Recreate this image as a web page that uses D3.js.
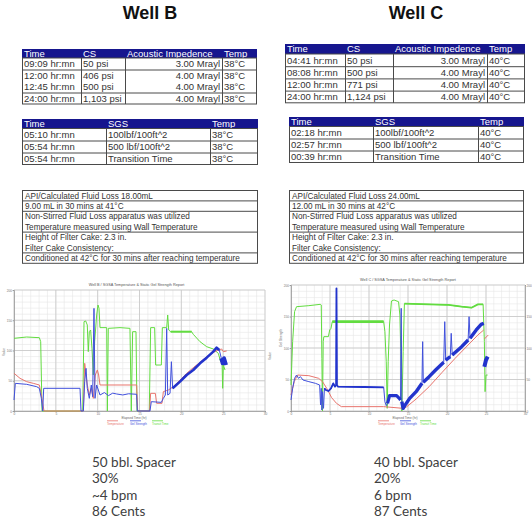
<!DOCTYPE html>
<html>
<head>
<meta charset="utf-8">
<script src="https://cdn.jsdelivr.net/npm/d3@7"></script>
<style>
  body { margin: 0; background: #fff; }
  svg { display: block; }
</style>
</head>
<body>
<svg id="sheet" width="532" height="529"></svg>
<script>
// ---------- data ----------
const wellNames = ["Well B", "Well C"];

const strengthHeader = ["Time", "CS", "Acoustic Impedence", "Temp"];
const strengthB = [
  ["09:09 hr:mn", "50 psi", "3.00 Mrayl", "38°C"],
  ["12:00 hr:mn", "406 psi", "4.00 Mrayl", "38°C"],
  ["12:45 hr:mn", "500 psi", "4.00 Mrayl", "38°C"],
  ["24:00 hr:mn", "1,103 psi", "4.00 Mrayl", "38°C"]
];
const strengthC = [
  ["04:41 hr:mn", "50 psi", "3.00 Mrayl", "40°C"],
  ["08:08 hr:mn", "500 psi", "4.00 Mrayl", "40°C"],
  ["12:00 hr:mn", "771 psi", "4.00 Mrayl", "40°C"],
  ["24:00 hr:mn", "1,124 psi", "4.00 Mrayl", "40°C"]
];

const sgsHeader = ["Time", "SGS", "Temp"];
const sgsB = [
  ["05:10 hr:mn", "100lbf/100ft^2", "38°C"],
  ["05:54 hr:mn", "500 lbf/100ft^2", "38°C"],
  ["05:54 hr:mn", "Transition Time", "38°C"]
];
const sgsC = [
  ["02:18 hr:mn", "100lbf/100ft^2", "40°C"],
  ["02:57 hr:mn", "500 lbf/100ft^2", "40°C"],
  ["00:39 hr:mn", "Transition Time", "40°C"]
];

const fluidB = [
  ["API/Calculated Fluid Loss 18.00mL"],
  ["9.00 mL in 30 mins at 41°C"],
  ["Non-Stirred Fluid Loss apparatus was utilized", "Temperature measured using Wall Temperature"],
  ["Height of Filter Cake: 2.3 in.", "Filter Cake Consistency:"],
  ["Conditioned at 42°C for 30 mins after reaching temperature"]
];
const fluidC = [
  ["API/Calculated Fluid Loss 24.00mL"],
  ["12.00 mL in 30 mins at 42°C"],
  ["Non-Stirred Fluid Loss apparatus was utilized", "Temperature measured using Wall Temperature"],
  ["Height of Filter Cake: 2.3 in.", "Filter Cake Consistency:"],
  ["Conditioned at 42°C for 30 mins after reaching temperature"]
];

const notesB = ["50 bbl. Spacer", "30%", "~4 bpm", "86 Cents"];
const notesC = ["40 bbl. Spacer", "20%", "6 bpm", "87 Cents"];

// chart series: [elapsed hours, value]; null breaks the trace
const tempB = [[0,62.3],[0.72,54.0],[1.51,48.5],[2.31,45.7],[3.03,43.0],[3.27,26.4],[3.59,0],[8.29,0],[8.45,78.8],[8.61,59.5],[8.76,43.0],[9.00,26.4],[9.24,37.5],[9.48,20.9],[9.72,59.5],[9.96,67.8],[10.12,59.5],[10.28,43.0],[14.66,43.0],[14.78,0],[16.21,0],[16.33,29.2],[16.89,29.2],[17.05,12.7],[17.69,12.7],[17.85,32.0],[18.45,34.7],[19.04,40.2],[19.84,51.2],[20.64,62.3],[21.43,71.6],[22.23,80.4],[23.03,89.8],[23.82,97.0],[24.42,100.8],[24.82,102.5],[25.02,98.1],[25.42,99.2]];
const gelB = [[0,18.2],[0.16,45.7],[1.51,44.1],[2.71,40.2],[3.03,37.5],[3.27,20.9],[3.43,0],[3.55,37.5],[7.89,37.5],[8.01,0],[8.29,0],[8.45,48.5],[8.61,70.5],[8.76,37.5],[9.00,20.9],[9.24,43.0],[9.40,23.7],[9.56,169.7],[9.68,20.9],[9.88,43.0],[10.08,34.7],[10.28,26.4],[10.8,30.5],[11.3,25.5],[11.8,29.5],[12.27,28.1],[13.0,26.5],[13.7,28.5],[14.66,27.6],[14.74,0],[16.25,0],[16.41,15.4],[17.61,14.3],[17.85,20.9],[18.09,26.4],[18.25,136.6],[18.37,26.4],[18.65,29.2],[18.81,81.5],[18.96,37.5],[19.84,48.5],[20.64,59.5],[21.43,67.8],[22.23,78.8],[23.03,88.2],[23.82,98.1],[24.22,104.7],[24.54,100.8],[24.78,87.1],[24.94,78.8],[25.10,87.1],[25.34,76.0]];
const transitB = [[0,120.1],[1.51,122.3],[3.03,121.2],[3.19,114.6],[3.35,0],[8.21,0],[8.37,147.7],[8.57,148.8],[8.76,142.2],[8.88,98.1],[9.00,131.1],[9.16,133.9],[9.32,103.6],[9.48,59.5],[9.64,114.6],[9.88,158.7],[10.04,175.2],[10.16,169.7],[10.28,137.8],[11.08,137.8],[11.16,0],[11.27,136.6],[12.67,137.8],[13.86,136.6],[14.02,0],[14.18,131.1],[14.58,131.1],[14.70,0],[16.17,0],[16.33,137.8],[16.81,137.8],[16.93,76.0],[17.61,76.0],[17.73,137.8],[18.25,137.8],[18.37,158.7],[18.49,133.9],[18.73,131.1],[21.23,131.1],[21.43,126.7],[22.23,114.6],[23.03,106.3],[23.82,102.5],[24.42,95.3],[24.70,81.5],[24.86,87.1],[24.94,37.5],[25.02,76.0],[25.22,67.8]];

const tempC = [[0,25.4],[0.42,46.6],[0.83,57.1],[2.29,56.1],[3.54,51.9],[4.04,46.6],[4.58,36.0],[5.21,21.2],[5.83,12.2],[6.46,6.9],[11.88,6.9],[14.38,4.2],[14.79,6.3],[16.04,19.0],[17.71,38.6],[19.38,61.4],[21.04,83.6],[22.71,104.8],[23.96,120.6],[24.71,128.6],[24.75,null],[24.79,114.3],[25.29,120.6]];
const gelC = [[0,17.5],[0.21,36.0],[0.46,51.9],[0.71,57.1],[0.96,51.9],[1.21,54.5],[1.54,49.2],[2.29,46.6],[3.13,43.9],[3.67,41.3],[3.79,9.5],[3.88,36.0],[3.96,1.6],[4.04,30.7],[4.17,4.2],[4.29,36.0],[4.46,33.3],[4.79,31.7],[5.13,36.0],[5.42,43.9],[5.63,38.6],[5.79,41.3],[5.83,194.7],[5.88,41.3],[6.04,38.6],[9.38,38.1],[11.88,37.6],[12.04,14.8],[12.21,8.5],[12.38,12.2],[12.63,24.3],[13.54,24.3],[13.88,20.1],[14.04,17.5],[14.13,163.0],[14.21,14.8],[14.38,4.2],[14.58,8.5],[15.21,20.1],[16.04,30.7],[16.79,43.9],[16.88,110.1],[16.96,45.5],[17.71,54.5],[18.54,65.1],[19.58,77.3],[19.71,141.8],[19.83,80.9],[20.42,86.2],[20.54,123.3],[20.67,88.8],[21.88,102.1],[22.71,112.7],[22.83,149.7],[22.96,115.3],[23.75,128.6],[24.38,137.6],[24.71,139.2],[24.75,null],[24.79,70.4],[25.00,80.9],[25.21,86.2]];
const transitC = [[0,41.3],[0.21,110.1],[0.46,157.7],[0.71,165.6],[2.29,167.2],[3.75,169.3],[3.88,168.3],[3.96,83.6],[4.04,0],[4.13,110.1],[4.21,118.0],[4.79,118.0],[4.96,128.6],[5.13,131.2],[5.29,141.8],[11.88,141.8],[12.04,125.9],[12.21,78.3],[12.33,4.2],[12.46,78.3],[12.63,136.5],[12.88,174.6],[13.21,176.2],[13.79,173.5],[13.96,152.4],[14.08,94.2],[14.21,0],[14.38,94.2],[14.54,170.4],[17.71,169.3],[20.21,168.3],[21.88,165.6],[23.13,164.0],[23.96,169.3],[24.63,169.3],[24.79,110.1],[24.88,30.7],[25.00,57.1],[25.21,57.1]];

const timeTicks = [0, 5, 10, 15, 20, 25, 30];
const valueTicks = [0, 50, 100, 150, 200];
const seriesNames = ["Temperature", "Gel Strength", "Transit Time"];
const chartTitles = ["Well B / SGSA Temperature & Static Gel Strength Report", "Well C / SGSA Temperature & Static Gel Strength Report"];
const timeTitle = "Elapsed Time (hr)";

// ---------- drawing ----------
const svg = d3.select("#sheet");
const SANS = "'Liberation Sans', Arial, sans-serif";
const NAVY = "#16168e";
const RULE = "#4a4a4a";
const INK = "#333";
const COLORS = { temp: "#e8756e", gel: "#4050dc", transit: "#62dc40" };
const HEAVY_GEL = "#2233cc";

svg.append("rect").attr("width", 532).attr("height", 529).attr("fill", "#fff");

// well titles
[[150, wellNames[0]], [416, wellNames[1]]].forEach(([cx, name]) => {
  svg.append("text").attr("x", cx).attr("y", 19).attr("text-anchor", "middle")
    .attr("font-family", SANS).attr("font-weight", "bold").attr("font-size", 18)
    .attr("fill", "#111").text(name);
});

// table with a navy header band and ruled body
function headedTable({ cols, top, headH, rowH, header, rows, aligns, noRuleBefore = [] }) {
  const g = svg.append("g").attr("font-family", SANS).attr("font-size", 9.5);
  const left = cols[0], right = cols[cols.length - 1];
  g.append("rect").attr("x", left).attr("y", top).attr("width", right - left)
    .attr("height", headH).attr("fill", NAVY);
  header.forEach((h, i) => {
    g.append("text").attr("x", cols[i] + 2).attr("y", top + headH / 2)
      .attr("dy", "0.36em").attr("fill", "#fff").text(h);
  });
  const bodyTop = top + headH;
  const bottom = bodyTop + rowH * rows.length;
  g.append("rect").attr("x", left + 0.5).attr("y", bodyTop).attr("width", right - left - 1)
    .attr("height", bottom - bodyTop).attr("fill", "none").attr("stroke", RULE);
  cols.slice(1, -1).forEach(cx => {
    g.append("line").attr("x1", cx + 0.5).attr("x2", cx + 0.5)
      .attr("y1", bodyTop).attr("y2", bottom).attr("stroke", RULE);
  });
  rows.forEach((r, ri) => {
    const ry = bodyTop + ri * rowH;
    if (ri > 0 && !noRuleBefore.includes(ri)) {
      g.append("line").attr("x1", left).attr("x2", right)
        .attr("y1", ry + 0.5).attr("y2", ry + 0.5).attr("stroke", RULE);
    }
    r.forEach((cell, ci) => {
      const end = aligns[ci] === "end";
      g.append("text").attr("x", end ? cols[ci + 1] - 2 : cols[ci] + 2)
        .attr("y", ry + rowH / 2).attr("dy", "0.36em")
        .attr("text-anchor", end ? "end" : "start")
        .attr("fill", INK).text(cell);
    });
  });
}

headedTable({ cols: [22, 81, 125, 222, 257], top: 49, headH: 9, rowH: 11.5,
  header: strengthHeader, rows: strengthB, aligns: ["start", "start", "end", "start"], noRuleBefore: [2] });
headedTable({ cols: [285, 345, 393, 487, 525], top: 44, headH: 10, rowH: 12.2,
  header: strengthHeader, rows: strengthC, aligns: ["start", "start", "end", "start"] });
headedTable({ cols: [22, 106, 210, 258], top: 119, headH: 9.5, rowH: 12,
  header: sgsHeader, rows: sgsB, aligns: ["start", "start", "start"] });
headedTable({ cols: [289, 373, 478, 524], top: 117, headH: 9.5, rowH: 12,
  header: sgsHeader, rows: sgsC, aligns: ["start", "start", "start"] });

// boxed notes table; each group can hold one or two lines
function notesTable(left, right, top, groups) {
  const g = svg.append("g").attr("font-family", SANS).attr("font-size", 8.2);
  const lineH = 10.4;
  let y = top;
  groups.forEach((lines, gi) => {
    if (gi > 0) {
      g.append("line").attr("x1", left).attr("x2", right)
        .attr("y1", y + 0.5).attr("y2", y + 0.5).attr("stroke", RULE);
    }
    lines.forEach((t, li) => {
      g.append("text").attr("x", left + 3).attr("y", y + lineH * li + lineH / 2 + 0.5)
        .attr("dy", "0.36em").attr("fill", INK).text(t);
    });
    y += lineH * lines.length;
  });
  g.append("rect").attr("x", left + 0.5).attr("y", top + 0.5).attr("width", right - left - 1)
    .attr("height", y - top).attr("fill", "none").attr("stroke", RULE);
}
notesTable(22, 258, 190, fluidB);
notesTable(289, 524, 190, fluidC);

// line chart with grid, tiny axes and legend
function trendChart(cfg) {
  const x = d3.scaleLinear().domain([0, 30]).range([cfg.left, cfg.right]);
  const y = d3.scaleLinear().domain([0, 200]).range([cfg.bottom, cfg.top]);
  const g = svg.append("g").attr("font-family", SANS);

  g.append("rect").attr("x", cfg.left).attr("y", cfg.top)
    .attr("width", cfg.right - cfg.left).attr("height", cfg.bottom - cfg.top).attr("fill", "#fff");

  // minor then major grid
  g.append("g").attr("stroke", "#e6e6e6").attr("stroke-width", 0.6)
    .selectAll("line").data(d3.range(0, 31, 1)).join("line")
    .attr("x1", d => x(d)).attr("x2", d => x(d)).attr("y1", cfg.top).attr("y2", cfg.bottom);
  g.append("g").attr("stroke", "#e6e6e6").attr("stroke-width", 0.6)
    .selectAll("line").data(d3.range(0, 201, 10)).join("line")
    .attr("y1", d => y(d)).attr("y2", d => y(d)).attr("x1", cfg.left).attr("x2", cfg.right);
  g.append("g").attr("stroke", "#c6c6c6").attr("stroke-width", 0.8)
    .selectAll("line").data(timeTicks).join("line")
    .attr("x1", d => x(d)).attr("x2", d => x(d)).attr("y1", cfg.top).attr("y2", cfg.bottom);
  g.append("g").attr("stroke", "#c6c6c6").attr("stroke-width", 0.8)
    .selectAll("line").data(valueTicks).join("line")
    .attr("y1", d => y(d)).attr("y2", d => y(d)).attr("x1", cfg.left).attr("x2", cfg.right);

  // axes
  const styleAxis = a => {
    a.selectAll("text").attr("font-size", 3.2).attr("fill", "#777");
    a.selectAll("line").attr("stroke", "#999");
    a.select(".domain").attr("stroke", "#999").attr("stroke-width", 0.8);
  };
  styleAxis(g.append("g").attr("transform", `translate(0,${cfg.bottom})`)
    .call(d3.axisBottom(x).tickValues(timeTicks).tickSize(1.2).tickPadding(0.8)));
  styleAxis(g.append("g").attr("transform", `translate(${cfg.left},0)`)
    .call(d3.axisLeft(y).tickValues(valueTicks).tickSize(1.2).tickPadding(0.8)));
  if (cfg.rightAxis) {
    styleAxis(g.append("g").attr("transform", `translate(${cfg.right},0)`)
      .call(d3.axisRight(y).tickValues(valueTicks).tickSize(1).tickPadding(0.5)));
  }

  // titles
  g.append("text").attr("x", (cfg.left + cfg.right) / 2 - cfg.titleShift).attr("y", cfg.top - 4)
    .attr("text-anchor", "middle").attr("font-size", 3.8).attr("fill", "#555").text(cfg.title);
  g.append("text").attr("x", cfg.timeTitleX).attr("y", cfg.bottom + 8.2)
    .attr("text-anchor", "middle").attr("font-size", 3.2).attr("fill", "#666").text(timeTitle);
  cfg.valueTitles.forEach(([vx, vy, label]) => {
    g.append("text").attr("transform", `translate(${vx},${vy}) rotate(-90)`)
      .attr("text-anchor", "middle").attr("font-size", 3.2).attr("fill", "#666").text(label);
  });

  // traces
  const line = d3.line().defined(d => d[1] !== null).x(d => x(d[0])).y(d => y(d[1]));
  cfg.traces.forEach(tr => {
    g.append("path").attr("d", line(tr.data)).attr("fill", "none")
      .attr("stroke", tr.color).attr("stroke-width", 1).attr("stroke-linejoin", "round");
    (tr.heavy || []).forEach(([a, b, w]) => {
      const part = tr.data.filter(d => d[0] >= a && d[0] <= b);
      g.append("path").attr("d", line(part)).attr("fill", "none")
        .attr("stroke", tr.heavyColor || tr.color).attr("stroke-width", w)
        .attr("stroke-linejoin", "round");
    });
  });

  // legend
  cfg.legendX.forEach((lx, i) => {
    const c = [COLORS.temp, COLORS.gel, COLORS.transit][i];
    g.append("line").attr("x1", lx).attr("x2", lx + 11).attr("y1", cfg.bottom + 9.8)
      .attr("y2", cfg.bottom + 9.8).attr("stroke", c).attr("stroke-width", 0.8);
    g.append("text").attr("x", lx).attr("y", cfg.bottom + 13.6).attr("font-size", 3)
      .attr("fill", c).text(seriesNames[i]);
  });
}

trendChart({
  left: 14, right: 265, top: 290, bottom: 411, titleShift: 3,
  title: chartTitles[0], timeTitleX: 134,
  valueTitles: [[4.5, 352, "Value"]],
  legendX: [107, 130, 152],
  traces: [
    { data: transitB, color: COLORS.transit, heavy: [[18.73, 21.23, 2]] },
    { data: tempB, color: COLORS.temp },
    { data: gelB, color: COLORS.gel, heavyColor: HEAVY_GEL,
      heavy: [[18.96, 24.6, 2.6], [24.7, 25.4, 4]] }
  ]
});
trendChart({
  left: 291, right: 525, top: 285, bottom: 411, titleShift: 0, rightAxis: true,
  title: chartTitles[1], timeTitleX: 405,
  valueTitles: [[271, 356, "Value"], [282, 338, "Gel Strength"]],
  legendX: [378, 400, 420],
  traces: [
    { data: transitC, color: COLORS.transit, heavy: [[5.29, 11.88, 2.6], [14.54, 24.63, 1.8]] },
    { data: tempC, color: COLORS.temp },
    { data: gelC, color: COLORS.gel, heavyColor: HEAVY_GEL,
      heavy: [[4.29, 11.88, 1.8], [12.3, 14.04, 3.2], [14.21, 16.79, 3.4], [16.96, 19.58, 3.4],
              [19.83, 20.42, 3.4], [20.67, 22.71, 3.4], [22.96, 24.71, 3.4], [24.79, 25.21, 4]] }
  ]
});

// job notes under each chart
[[92, notesB], [374, notesC]].forEach(([nx, lines]) => {
  lines.forEach((t, i) => {
    svg.append("text").attr("x", nx).attr("y", 467 + i * 16.3)
      .attr("font-family", "Lato, 'Open Sans', sans-serif").attr("font-size", 13.5)
      .attr("fill", "#404040").text(t);
  });
});
</script>
</body>
</html>
